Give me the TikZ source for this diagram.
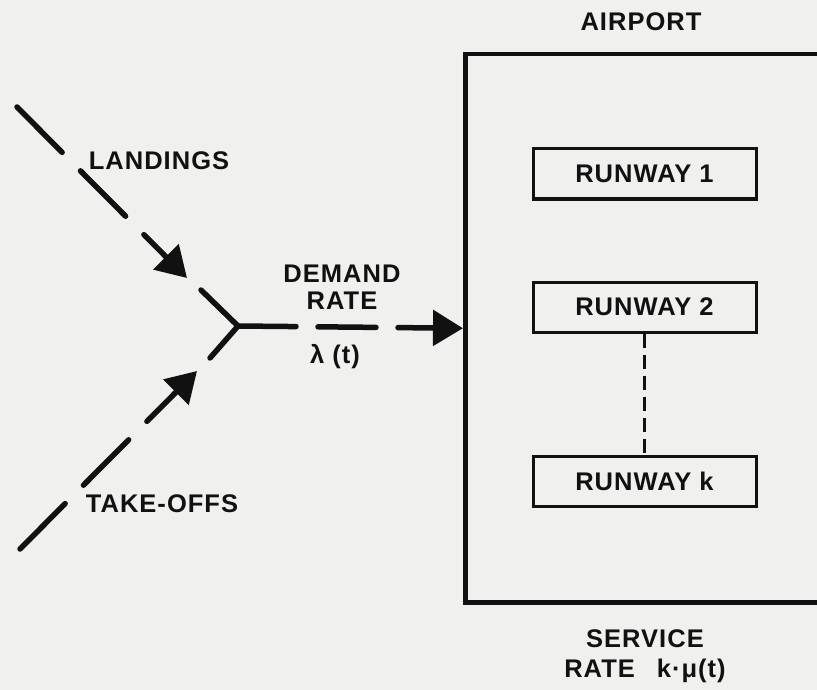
\documentclass[tikz,border=0pt]{standalone}
\usepackage{fontspec}
\setmainfont[LetterSpace=4]{Liberation Sans}
\usepackage{tikz}
\usetikzlibrary{arrows.meta}
\definecolor{paper}{HTML}{F0F0EE}
\definecolor{ink}{HTML}{111111}
\tikzset{sc/.style={x=1pt,y=-1pt,color=ink,font=\bfseries\fontsize{25.5}{27}\selectfont},
  flow/.style={line width=5.5pt,line cap=round,dash pattern=on 64pt off 26pt},
  arrowhd/.style={-{Triangle[length=30pt,width=35pt]}},
  rwy/.style={draw,line width=3pt,minimum width=223pt,minimum height=50pt,inner sep=0pt}}

\begin{document}
\begin{tikzpicture}[sc]
  \fill[paper] (0,0) rectangle (817,690);
  \clip (0,0) rectangle (817,690);
  % airport and its runways
  \node[draw,line width=4.5pt,minimum width=380pt,minimum height=548pt,anchor=north west] (apt) at (463,52) {};
  \node (aptlbl) at (641,22) {AIRPORT};
  \foreach \n/\y/\k in {rw1/174/1,rw2/307/2,rwk/481/k}{\node[rwy] (\n) at (644.5,\y) {RUNWAY \k};}
  \draw[line width=2.5pt,dash pattern=on 14pt off 7pt] (rw2) -- (rwk);
  \node[align=center] (srv) at (645,656) {SERVICE\\[3pt]RATE\hspace{22pt}k·μ(t)};
  % demand streams
  \coordinate (land0) at (17,107);
  \coordinate (landtip) at (187,278);
  \coordinate (landbr) at (201,290);
  \coordinate (take0) at (20,549);
  \coordinate (taketip) at (197,371);
  \coordinate (takebr) at (210,358);
  \coordinate (join) at (238,326);
  \draw[flow,arrowhd] (land0) -- (landtip);
  \draw[flow,arrowhd] (take0) -- (taketip);
  \draw[line width=5.5pt,line cap=round] (landbr) -- (join) -- (takebr);
  \draw[flow,arrowhd,dash pattern=on 58pt off 22pt] (join) -- (apt.west);
  \node (landlbl) at (159,161) {LANDINGS};
  \node (takelbl) at (162,504) {TAKE-OFFS};
  \node[align=center] (dem) at (342,287.5) {DEMAND\\RATE};
  \node (lam) at (335,357) {λ (t)};
\end{tikzpicture}
\end{document}
